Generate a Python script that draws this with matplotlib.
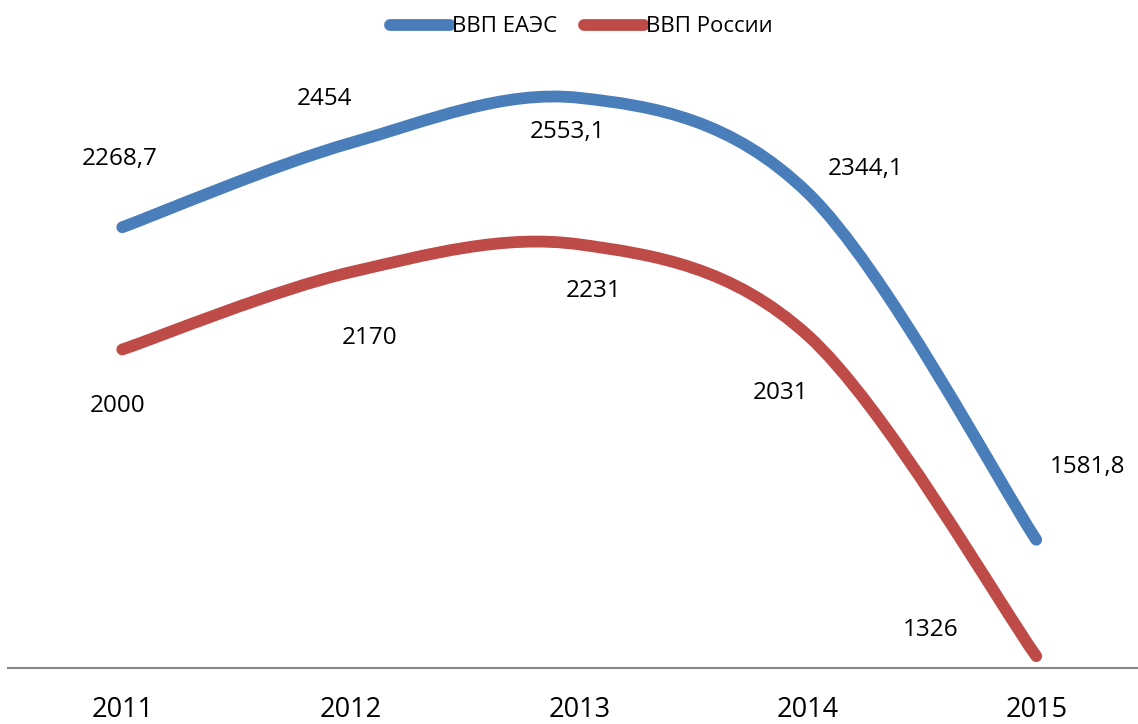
import numpy as np
import matplotlib
matplotlib.use("Agg")
from matplotlib import pyplot as plt
from matplotlib.path import Path
from matplotlib.patches import PathPatch
from matplotlib.lines import Line2D

plt.rcParams["font.family"] = ["Open Sans", "DejaVu Sans"]

years = ["2011", "2012", "2013", "2014", "2015"]
vvp_eaes = [2268.7, 2454, 2553.1, 2344.1, 1581.8]
vvp_russia = [2000, 2170, 2231, 2031, 1326]
labels_eaes = ["2268,7", "2454", "2553,1", "2344,1", "1581,8"]
labels_russia = ["2000", "2170", "2231", "2031", "1326"]

BLUE = "#4A7EBB"
RED = "#BE4B48"


def smooth_path(x, y, t=1 / 6):
    # excel-like smoothing: bezier segments with catmull-rom tangents
    pts = np.column_stack([x, y]).astype(float)
    n = len(pts)
    verts = [pts[0]]
    codes = [Path.MOVETO]
    for i in range(n - 1):
        p0 = pts[max(i - 1, 0)]
        p1 = pts[i]
        p2 = pts[i + 1]
        p3 = pts[min(i + 2, n - 1)]
        verts += [p1 + (p2 - p0) * t, p2 - (p3 - p1) * t, p2]
        codes += [Path.CURVE4] * 3
    return Path(verts, codes)


fig = plt.figure(figsize=(11.38, 7.24), dpi=100)
ax = fig.add_axes([8 / 1138, 56 / 724, 1142.5 / 1138, 637 / 724])
x = np.arange(len(years))

for vals, col in [(vvp_eaes, BLUE), (vvp_russia, RED)]:
    patch = PathPatch(smooth_path(x, vals), fill=False, edgecolor=col,
                      lw=8.5, capstyle="round", joinstyle="round")
    ax.add_patch(patch)

# label offsets in pixels (dx, dy) from each point
off_eaes = [(-3, 68), (-26, 44), (-12, -34), (58, 24), (51, 73)]
off_russia = [(-5, -57), (19, -66), (14, -47), (-27, -58), (-106, 26)]
for vals, labs, offs in [(vvp_eaes, labels_eaes, off_eaes),
                         (vvp_russia, labels_russia, off_russia)]:
    for i, (v, lab) in enumerate(zip(vals, labs)):
        ax.annotate(lab, (x[i], v), xytext=offs[i], textcoords="offset pixels",
                    ha="center", va="center", fontsize=17.5, color="black")

ax.set_xlim(-0.5, len(years) - 0.5)
ax.set_ylim(1300, 2700)
ax.set_xticks(x)
ax.set_xticklabels(years, fontsize=19.5)
ax.tick_params(axis="x", length=0, pad=20)
ax.set_yticks([])
for s in ["top", "right", "left"]:
    ax.spines[s].set_visible(False)
ax.spines["bottom"].set_color("#868686")
ax.spines["bottom"].set_linewidth(1.5)

handles = [Line2D([], [], color=BLUE, lw=8.5, solid_capstyle="round"),
           Line2D([], [], color=RED, lw=8.5, solid_capstyle="round")]
fig.legend(handles, ["ВВП ЕАЭС", "ВВП России"], loc="center",
           bbox_to_anchor=(581 / 1138, 1 - 27 / 724), ncol=2, frameon=False,
           fontsize=16, handlelength=2.7, handletextpad=0.1, columnspacing=1.2)

fig.savefig("out.png", dpi=100)
